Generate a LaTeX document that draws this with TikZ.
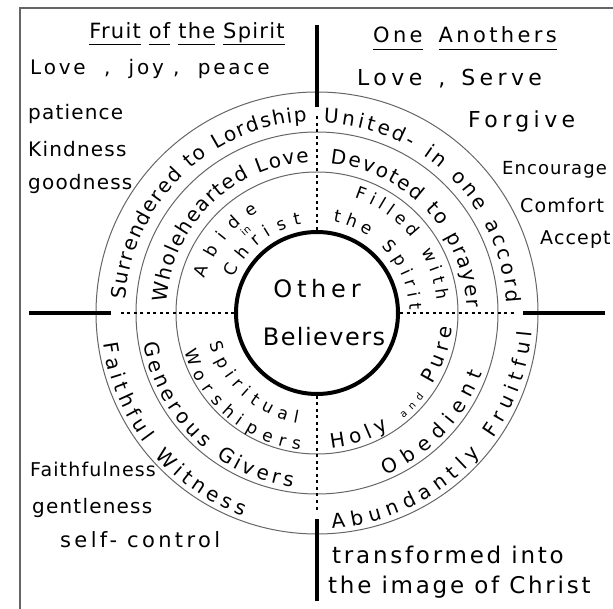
\documentclass[tikz,border=0pt]{standalone}
\usepackage{fontspec}
\setmainfont{DejaVu Sans}[LetterSpace=6]
\usetikzlibrary{decorations.text}
\newcommand\handfont{\fontsize{20}{24}\selectfont}
\newcommand\widefont{\fontsize{22}{26}\selectfont\addfontfeature{LetterSpace=20}}
\newcommand\titlefont{\fontsize{21}{24}\selectfont}
\newcommand\ringfont{\fontsize{20}{20}\selectfont}
\newcommand\pairfont{\fontsize{17}{17}\selectfont}
\newcommand\smallword{\fontsize{10}{10}\selectfont}
\newcommand\corefont{\fontsize{24}{48}\selectfont}
\tikzset{
  outerframe/.style={draw=black!60, line width=2pt},
  ringline/.style={draw=black!60, line width=1pt},
  corecircle/.style={circle, draw, line width=4pt, minimum size=162pt, inner sep=0pt, align=center, font=\corefont},
  axisline/.style={line width=4.5pt},
  axisdots/.style={line width=2.2pt, dash pattern=on 3pt off 3.5pt},
  handtext/.style={inner sep=0pt, font=\handfont},
  arctext/.style={decorate, decoration={text along path, text align=fit to path, text={#1}}},
}
\begin{document}
\begin{tikzpicture}[x=1pt, y=1pt]
    \useasboundingbox (0,0) rectangle (613,608);
    \clip (0,0) rectangle (613,608);
    \fill[white] (0,0) rectangle (613,608);
    \draw[outerframe] (19.5,-20) rectangle (650,600);
    \coordinate (c) at (317,295);
    \draw[ringline] (c) circle[radius=141pt];
    \draw[ringline] (c) circle[radius=181pt];
    \draw[ringline] (c) circle[radius=221pt];
    \node[corecircle] (core) at (c) {{\addfontfeature{LetterSpace=20}Other}\\\hspace*{14pt}Believers};
    \foreach \a/\s in {90/north, 180/west, 270/south, 0/east} {
        \coordinate (dot\s) at ([shift={(\a:197pt)}]c);
        \coordinate (in\s) at ([shift={(\a:206pt)}]c);
        \coordinate (out\s) at ([shift={(\a:288pt)}]c);
        \draw[axisdots] (core.\s) -- (dot\s);
        \draw[axisline] (in\s) -- (out\s);
    }
    \node[handtext, font=\titlefont] (fruit) at (187,574) {\underline{\vphantom{p}Fruit} \underline{\vphantom{p}of} \underline{\vphantom{p}the} \underline{\vphantom{p}Spirit}};
    \node[handtext, font=\fontsize{20}{24}\selectfont\addfontfeature{LetterSpace=14}, anchor=base west] (fruitlist) at (30,533) {Love\ \ ,\ \ joy\ ,\ \ peace};
    \node[handtext, anchor=base west] (patience) at (28,488) {patience};
    \node[handtext, anchor=base west] (kindness) at (28,451) {Kindness};
    \node[handtext, anchor=base west] (goodness) at (28,418) {goodness};
    \node[handtext, font=\titlefont\addfontfeature{LetterSpace=16}, anchor=base west] (others) at (373,565) {\underline{\vphantom{p}One}\hspace{16pt}\underline{\vphantom{p}Anothers}};
    \node[handtext, font=\widefont, anchor=base west] (otherlist) at (357,522) {Love\hspace{16pt},\hspace{16pt}Serve};
    \node[handtext, font=\widefont, anchor=base west] (forgive) at (468,480) {Forgive};
    \node[handtext, font=\fontsize{18}{20}\selectfont, anchor=base west] (encourage) at (502,433) {Encourage};
    \node[handtext, font=\fontsize{19}{20}\selectfont, anchor=base west] (comfort) at (520,395) {Comfort};
    \node[handtext, font=\fontsize{19}{20}\selectfont, anchor=base west] (accept) at (540,363) {Accept};
    \node[handtext, font=\fontsize{19}{24}\selectfont, anchor=base west] (faithfulness) at (30,131) {Faithfulness};
    \node[handtext, anchor=base west] (gentleness) at (32,95) {gentleness};
    \node[handtext, font=\fontsize{21}{24}\selectfont\addfontfeature{LetterSpace=16}, anchor=base west] (selfcontrol) at (60,61) {self-\ control};
    \node[handtext, font=\fontsize{23}{26}\selectfont\addfontfeature{LetterSpace=12}, anchor=base west] (transformed) at (332,45) {transformed into};
    \node[handtext, font=\fontsize{23}{26}\selectfont\addfontfeature{LetterSpace=12}, anchor=base west] (image) at (328,15) {the image of Christ};
    \path[arctext={|\ringfont|Surrendered to Lordship}] ([shift={(176:192pt)}]c) arc[start angle=176, end angle=93, radius=192pt];
    \path[arctext={|\ringfont|Wholehearted Love}] ([shift={(176:151pt)}]c) arc[start angle=176, end angle=93, radius=151pt];
    \path[arctext={|\pairfont|Abide}] ([shift={(163:117pt)}]c) arc[start angle=163, end angle=120, radius=117pt];
    \node[font=\smallword, rotate=41] (inword) at ([shift={(131:109pt)}]c) {in};
    \path[arctext={|\pairfont|Christ}] ([shift={(157:90pt)}]c) arc[start angle=157, end angle=100, radius=90pt];
    \path[arctext={|\ringfont|United- in one accord}] ([shift={(88:190pt)}]c) arc[start angle=88, end angle=3, radius=190pt];
    \path[arctext={|\ringfont|Devoted to prayer}] ([shift={(85:150pt)}]c) arc[start angle=85, end angle=2, radius=150pt];
    \path[arctext={|\pairfont|Filled with}] ([shift={(72:121pt)}]c) arc[start angle=72, end angle=6, radius=121pt];
    \path[arctext={|\pairfont|the Spirit}] ([shift={(80:93pt)}]c) arc[start angle=80, end angle=2, radius=93pt];
    \path[arctext={|\ringfont|Faithful Witness}] ([shift={(188:216pt)}]c) arc[start angle=188, end angle=250, radius=216pt];
    \path[arctext={|\ringfont|Generous Givers}] ([shift={(190:176pt)}]c) arc[start angle=190, end angle=262, radius=176pt];
    \path[arctext={|\pairfont|Worshipers}] ([shift={(196:138pt)}]c) arc[start angle=196, end angle=263, radius=138pt];
    \path[arctext={|\pairfont|Spiritual}] ([shift={(196:112pt)}]c) arc[start angle=196, end angle=260, radius=112pt];
    \path[arctext={|\ringfont|Holy |\smallword|and |\ringfont|Pure}] ([shift={(276:136pt)}]c) arc[start angle=276, end angle=354, radius=136pt];
    \path[arctext={|\ringfont|Obedient}] ([shift={(293:176pt)}]c) arc[start angle=293, end angle=340, radius=176pt];
    \path[arctext={|\ringfont|Abundantly Fruitful}] ([shift={(274:216pt)}]c) arc[start angle=274, end angle=355, radius=216pt];
\end{tikzpicture}
\end{document}
